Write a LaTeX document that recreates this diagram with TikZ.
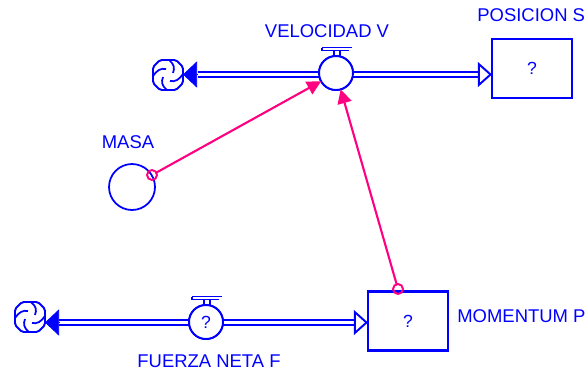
\documentclass[tikz,border=0pt]{standalone}
\usepackage{fontspec}
\setmainfont{Liberation Sans}
\usetikzlibrary{calc}
\usetikzlibrary{arrows.meta}
\definecolor{flowblue}{RGB}{0,0,255}
\definecolor{linkpink}{RGB}{255,0,128}
\tikzset{
  stockbox/.style={draw=flowblue, line width=1.2pt, text=flowblue, font=\fontsize{10}{12}\selectfont, minimum width=1.6cm, minimum height=1.18cm, inner sep=0pt, outer sep=0pt},
  valvecirc/.style={draw=flowblue, fill=white, line width=1.1pt, text=flowblue, font=\fontsize{10}{12}\selectfont, circle, minimum size=.68cm, inner sep=0pt, outer sep=0pt},
  auxcirc/.style={draw=flowblue, line width=1pt, circle, minimum size=.92cm, inner sep=0pt, outer sep=0pt},
  cloudspot/.style={circle, minimum size=.6cm, inner sep=0pt, outer sep=0pt},
  lbl/.style={text=flowblue, font=\fontsize{10.5}{12}\selectfont, inner sep=0pt},
  pipe/.style={draw=flowblue, line width=1.1pt, double=white, double distance=1.7pt},
  headopen/.style={draw=flowblue, line width=1.1pt, -{Triangle[open,length=8pt,width=14pt,line width=1.1pt]}},
  headfull/.style={draw=flowblue, -{Triangle[length=8pt,width=15pt]}},
  linkline/.style={draw=linkpink, line width=1.2pt, -{Triangle[length=8pt,width=8pt]}},
  linkstart/.style={draw=linkpink, line width=1.1pt, circle, minimum size=.2cm, inner sep=0pt, outer sep=0pt},
  valvetop/.pic={
    \draw[flowblue, line width=.8pt] (-14,-25.5) -- (16,-25.5) (-14,-22.5) -- (13,-22.5) (-14,-25.5) -- (-14,-22.5);
    \draw[flowblue, line width=.8pt] (-2,-22.5) -- (-2,-16) (4,-22.5) -- (4,-16);
  },
  swirl/.pic={
    \draw[flowblue, line width=1.1pt, rounded corners=1pt] (-15,-8) -- (-8,-15) -- (8,-15) -- (15,-8) -- (15,8) -- (8,15) -- (-8,15) -- (-15,8) -- cycle;
    \draw[flowblue, line width=1pt] (-15,1) .. controls (-11,-5) and (-7,-7) .. (-2,-6);
    \draw[flowblue, line width=1pt] (1,-15) .. controls (6,-11) and (7,-7) .. (5,-2);
    \draw[flowblue, line width=1pt] (15,-1) .. controls (11,5) and (7,7) .. (2,6);
    \draw[flowblue, line width=1pt] (-1,15) .. controls (-6,11) and (-7,7) .. (-5,2);
  }
}
\begin{document}
\begin{tikzpicture}[x=.02cm,y=-.02cm]
\useasboundingbox (0,0) rectangle (588,373);
% upper flow
\node[cloudspot] (cloudA) at (168,75) {};
\node[stockbox] (posicion) at (532,68.5) {?};
\node[valvecirc] (velocidad) at (336,73) {};
\coordinate (headA) at (198,74.5);
\coordinate (headB) at (478,74.5);
\draw[pipe] (velocidad |- headA) -- (headA);
\draw[pipe] (velocidad |- headB) -- (headB);
\node[valvecirc] (velocidad) at (336,73) {};
\draw[headfull] (headA) -- (cloudA.east |- headA);
\draw[headopen] (headB) -- (posicion.west |- headB);
\pic at (velocidad) {valvetop};
\pic at (cloudA) {swirl};
% lower flow
\node[cloudspot] (cloudB) at (30,317) {};
\node[stockbox] (momentum) at (408,321) {?};
\coordinate (headC) at (59,322.5);
\coordinate (headD) at (354,322.5);
\node[valvecirc] (fuerza) at (206,322) {?};
\draw[pipe] (fuerza |- headC) -- (headC);
\draw[pipe] (fuerza |- headD) -- (headD);
\node[valvecirc] (fuerza) at (206,322) {?};
\draw[headfull] (headC) -- (cloudB.east |- headC);
\draw[headopen] (headD) -- (momentum.west |- headD);
\pic at (fuerza) {valvetop};
\pic at (cloudB) {swirl};
% masa and links
\node[auxcirc] (masa) at (132,187) {};
\node[linkstart] (startA) at (152,175) {};
\node[linkstart] (startB) at (398,289) {};
\draw[linkline] (startA) -- (velocidad);
\draw[linkline] (startB) -- (velocidad);
% labels
\node[lbl] (lblmasa) at (128,142) {MASA};
\node[lbl] (lblvel) at (327,31) {VELOCIDAD V};
\node[lbl, anchor=west] (lblpos) at (477,15) {POSICION S};
\node[lbl, anchor=west] (lblmom) at (457,316) {MOMENTUM P};
\node[lbl] (lblfue) at (209,361) {FUERZA NETA F};
\end{tikzpicture}
\end{document}
